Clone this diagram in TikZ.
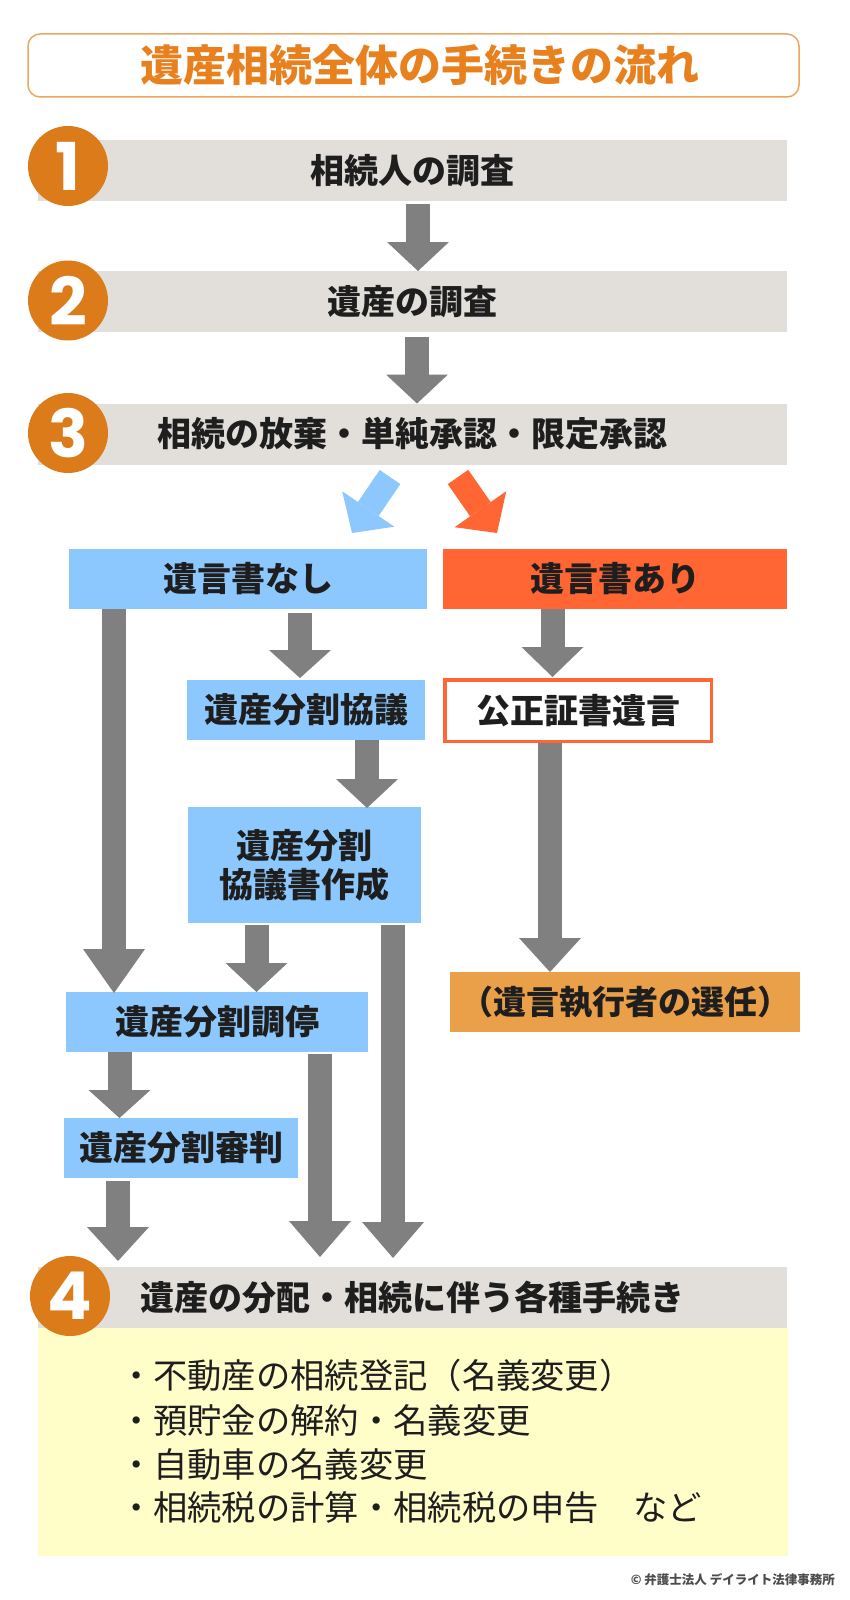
\documentclass[tikz,border=0pt]{standalone}
\usepackage{fontspec}
\usetikzlibrary{arrows.meta}
\newfontfamily\jp{Noto Sans CJK JP}
\newfontfamily\numf{Poppins}
\definecolor{circ}{HTML}{DB7B1A}
\definecolor{bargray}{HTML}{E2DFDA}
\definecolor{agray}{HTML}{808080}
\definecolor{lblue}{HTML}{8CC8FD}
\definecolor{rorange}{HTML}{FF6633}
\definecolor{sandy}{HTML}{EAA049}
\definecolor{lyellow}{HTML}{FFFDC8}
\definecolor{ttl}{HTML}{E8801E}
\definecolor{ttlborder}{HTML}{E9A760}
\definecolor{txt}{HTML}{1E1E1E}
\begin{document}
\begin{tikzpicture}[x=1pt,y=-1pt,
  bx/.style={inner sep=0pt, outer sep=0pt, font=\jp\bfseries\fontsize{34}{39}\selectfont, text=txt, align=center},
  bar/.style={bx, fill=bargray, minimum width=749pt, minimum height=61pt},
  stepnum/.style={circle, fill=circ, minimum size=80pt, inner sep=0pt, text=white, font=\numf\bfseries\fontsize{66}{66}\selectfont},
  item/.style={anchor=west, inner sep=0pt, outer sep=0pt, font=\jp\fontsize{34.3}{40}\selectfont, text=txt},
  garrow/.style={draw=agray, line width=24pt, -{Triangle[width=62pt,length=#1,line width=0pt 0 0]}},
  garrow/.default=30pt,
  blarrow/.style={draw=lblue, line width=25pt, -{Triangle[width=63pt,length=29pt,line width=0pt 0 0]}},
  rdarrow/.style={draw=rorange, line width=25pt, -{Triangle[width=63pt,length=29pt,line width=0pt 0 0]}}
]
\useasboundingbox (0,0) rectangle (850,1600);
% title
\node[draw=ttlborder, line width=1.5pt, rounded corners=12pt, minimum width=771pt, minimum height=63pt,
      inner sep=0pt, text=ttl, font=\jp\bfseries\fontsize{43}{46}\selectfont] (title) at (413.5,65.5) {\hspace*{12pt}遺産相続全体の手続きの流れ};
% step bars
\node[bar] (b1) at (412.5,170.5) {相続人の調査};
\node[bar] (b2) at (412.5,301.5) {遺産の調査};
\node[bar] (b3) at (412.5,434) {相続の放棄・単純承認・限定承認};
\node[fill=lyellow, minimum width=750pt, minimum height=228pt, inner sep=0pt, outer sep=0pt] (yb) at (413,1442) {};
\node[bar] (b4) at (412.5,1297.5) {遺産の分配・相続に伴う各種手続き};
% boxes
\node[bx, fill=lblue, minimum width=358pt, minimum height=60pt] (nashi) at (248,579) {遺言書なし};
\node[bx, fill=rorange, minimum width=344pt, minimum height=60pt] (ari) at (615,579) {遺言書あり};
\node[bx, fill=lblue, minimum width=238pt, minimum height=60pt] (kyogi) at (306,710) {遺産分割協議};
\node[bx, fill=white, draw=rorange, line width=3.5pt, minimum width=266.5pt, minimum height=61.5pt] (kosei) at (578,710.5) {公正証書遺言};
\node[bx, fill=lblue, minimum width=233pt, minimum height=116pt] (kyogisho) at (304.5,865) {遺産分割\\協議書作成};
\node[bx, fill=sandy, minimum width=350pt, minimum height=60pt, font=\jp\bfseries\fontsize{33}{39}\selectfont] (sennin) at (625,1002) {（遺言執行者の選任）};
\node[bx, fill=lblue, minimum width=302pt, minimum height=60pt] (chotei) at (217,1022) {遺産分割調停};
\node[bx, fill=lblue, minimum width=234pt, minimum height=60pt] (shinpan) at (181,1148) {遺産分割審判};
% items
\node[item] (i1) at (119,1375) {・不動産の相続登記（名義変更）};
\node[item] (i2) at (119,1420) {・預貯金の解約・名義変更};
\node[item] (i3) at (119,1464) {・自動車の名義変更};
\node[item] (i4) at (119,1508) {・相続税の計算・相続税の申告　など};
% copyright
\node[anchor=east, inner sep=0pt, text=black!70, font=\jp\bfseries\fontsize{12.5}{14}\selectfont] (copy) at (835,1580) {© 弁護士法人 デイライト法律事務所};
% diagonal arrows
\coordinate (bl0) at (390,477);
\coordinate (bl1) at (352,533);
\coordinate (rd0) at (458,477);
\coordinate (rd1) at (497,533);
\draw[blarrow] (bl0) -- (bl1);
\draw[rdarrow] (rd0) -- (rd1);
% gray arrows
\draw[garrow=29pt] ([xshift=5.5pt,yshift=-3pt]b1.south) -- ([xshift=5.5pt]b2.north);
\draw[garrow=29pt] ([xshift=4.5pt,yshift=-5pt]b2.south) -- ([xshift=4.5pt]b3.north);
\draw[garrow=28pt] ([xshift=52pt,yshift=-4pt]nashi.south) -- ([xshift=-6pt,yshift=2pt]kyogi.north);
\draw[garrow=30pt] ([xshift=-62.5pt]ari.south) -- ([xshift=-25.5pt,yshift=2.75pt]kosei.north);
\draw[garrow=29pt] ([xshift=61pt]kyogi.south) -- ([xshift=62.5pt,yshift=-1pt]kyogisho.north);
\draw[garrow=34pt] ([xshift=-28pt,yshift=-1.75pt]kosei.south) -- ([xshift=-75pt]sennin.north);
\draw[garrow=29pt] ([xshift=-48pt,yshift=-2pt]kyogisho.south) -- ([xshift=39.5pt]chotei.north);
\draw[garrow=36pt] ([xshift=88.5pt,yshift=-2pt]kyogisho.south) -- ([xshift=-19.5pt,yshift=9pt]b4.north);
\draw[garrow=44pt] ([xshift=-134pt]nashi.south) -- ([xshift=-103pt,yshift=-1pt]chotei.north);
\draw[garrow=28pt] ([xshift=-97.5pt]chotei.south) -- ([xshift=-61.5pt]shinpan.north);
\draw[garrow=36pt] ([xshift=103pt,yshift=-2pt]chotei.south) -- ([xshift=-92.5pt,yshift=10pt]b4.north);
\draw[garrow=34pt] ([xshift=-63pt,yshift=-3pt]shinpan.south) -- ([xshift=-294.5pt,yshift=6pt]b4.north);
% step circles
\node[stepnum] (c1) at (68,166) {1};
\node[stepnum] (c2) at (68,300.5) {2};
\node[stepnum] (c3) at (68,433) {3};
\node[stepnum] (c4) at (70,1296) {4};
\end{tikzpicture}
\end{document}
